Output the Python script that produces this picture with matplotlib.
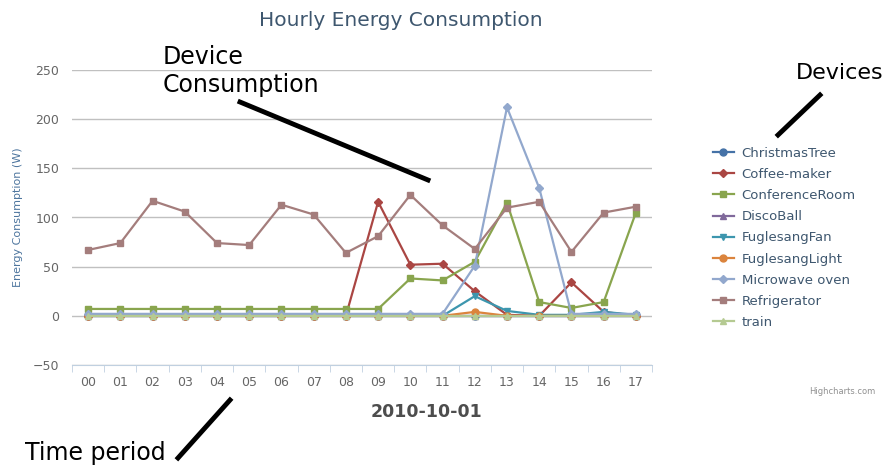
import numpy as np
import matplotlib
matplotlib.use("Agg")
import matplotlib.pyplot as plt
from matplotlib.lines import Line2D

hours = ["00", "01", "02", "03", "04", "05", "06", "07", "08",
         "09", "10", "11", "12", "13", "14", "15", "16", "17"]

christmas_tree = [0, 0, 0, 0, 0, 0, 0, 0, 0, 0, 0, 0, 0, 0, 0, 0, 0, 0]
coffee_maker = [0, 0, 0, 0, 0, 0, 0, 0, 0, 116, 52, 53, 25, 1, 0, 34, 4, 0]
conference_room = [7, 7, 7, 7, 7, 7, 7, 7, 7, 7, 38, 36, 55, 115, 14, 8, 14, 105]
disco_ball = [0, 0, 0, 0, 0, 0, 0, 0, 0, 0, 0, 0, 0, 0, 0, 0, 0, 0]
fuglesang_fan = [0, 0, 0, 0, 0, 0, 0, 0, 0, 0, 0, 0, 20, 5, 1, 1, 4, 1]
fuglesang_light = [0, 0, 0, 0, 0, 0, 0, 0, 0, 0, 0, 0, 4, 0, 0, 0, 0, 0]
microwave = [2, 2, 2, 2, 2, 2, 2, 2, 2, 2, 2, 2, 51, 212, 130, 2, 2, 2]
refrigerator = [67, 74, 117, 106, 74, 72, 113, 103, 64, 81, 123, 92, 68, 110, 116, 65, 105, 111]
train = [0, 0, 0, 0, 0, 0, 0, 0, 0, 0, 0, 0, 0, 0, 0, 0, 0, 0]

series = [
    ("ChristmasTree", christmas_tree, "#4572A7", "o"),
    ("Coffee-maker", coffee_maker, "#AA4643", "D"),
    ("ConferenceRoom", conference_room, "#89A54E", "s"),
    ("DiscoBall", disco_ball, "#80699B", "^"),
    ("FuglesangFan", fuglesang_fan, "#3D96AE", "v"),
    ("FuglesangLight", fuglesang_light, "#DB843D", "o"),
    ("Microwave oven", microwave, "#92A8CD", "D"),
    ("Refrigerator", refrigerator, "#A47D7C", "s"),
    ("train", train, "#B5CA92", "^"),
]

fig = plt.figure(figsize=(8.87, 4.65), dpi=100)
ax = fig.add_axes([72 / 887, 1 - 365 / 465, 580 / 887, 295 / 465])

x = np.arange(len(hours))
handles = []
for i, (name, vals, col, mk) in enumerate(series):
    ms = 4.5 if mk == "D" else 5
    ax.plot(x, vals, color=col, lw=1.6, marker=mk, ms=ms,
            markeredgecolor=col, zorder=3 + i, label=name)
    handles.append(Line2D([0], [0], color=col, lw=1.6, marker=mk, ms=ms))

ax.set_xlim(-0.5, 17.5)
ax.set_ylim(-50, 250)
ax.set_yticks(range(-50, 251, 50))
ax.grid(axis="y", color="#C0C0C0", lw=1)
ax.set_axisbelow(True)
for s in ["top", "right", "left"]:
    ax.spines[s].set_visible(False)
ax.spines["bottom"].set_color("#C0D0E0")
ax.tick_params(axis="y", length=0, labelsize=9, labelcolor="#666666", pad=9)
ax.set_xticks(x)
ax.set_xticklabels(hours)
ax.set_xticks(np.arange(-0.5, 18, 1), minor=True)
ax.tick_params(axis="x", which="major", length=0, labelsize=9,
               labelcolor="#666666", pad=8)
ax.tick_params(axis="x", which="minor", length=5, color="#C0D0E0")

ax.set_ylabel("Energy Consumption (W)", color="#4d759e", fontsize=8,
              labelpad=7)

fig.text(401 / 887, 1 - 20 / 465, "Hourly Energy Consumption", ha="center",
         va="center", fontsize=14.5, color="#3E576F")
fig.text(427 / 887, 1 - 412 / 465, "2010-10-01", ha="center", va="center",
         fontsize=12.5, fontweight="bold", color="#4D4D4D")
fig.text(875 / 887, 1 - 391 / 465, "Highcharts.com", ha="right",
         va="center", fontsize=6, color="#909090")

leg = fig.legend(handles, [s[0] for s in series], loc="upper left",
                 bbox_to_anchor=(706 / 887, 1 - 140 / 465), frameon=False,
                 fontsize=9.5, labelspacing=0.62, handlelength=1.6,
                 handletextpad=0.6, borderpad=0)
for t in leg.get_texts():
    t.set_color("#3E576F")

# annotations
fig.text(163 / 887, 1 - 57 / 465, "Device", ha="left",
         va="center", fontsize=17, color="black")
fig.text(163 / 887, 1 - 85 / 465, "Consumption", ha="left",
         va="center", fontsize=17, color="black")
fig.text(796 / 887, 1 - 73 / 465, "Devices", ha="left", va="center",
         fontsize=16, color="black")
fig.text(25 / 887, 1 - 453 / 465, "Time period", ha="left", va="center",
         fontsize=17, color="black")

for (x0, y0, x1, y1) in [(240, 102, 428, 180), (820, 95, 778, 135),
                         (230, 400, 178, 458)]:
    fig.add_artist(Line2D([x0 / 887, x1 / 887], [1 - y0 / 465, 1 - y1 / 465],
                          color="black", lw=3.5, transform=fig.transFigure))

fig.savefig("out.png", dpi=100)
